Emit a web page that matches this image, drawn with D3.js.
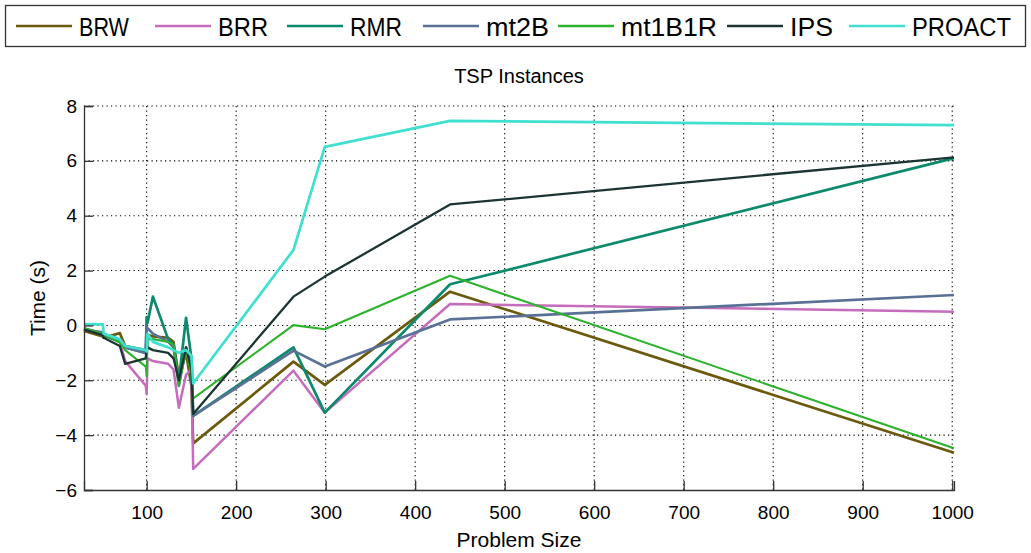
<!DOCTYPE html>
<html>
<head>
<meta charset="utf-8">
<script src="https://cdn.jsdelivr.net/npm/d3@7"></script>
<style>
  body { margin:0; background:#fff; }
  svg text { font-family: "Liberation Sans", Arial, sans-serif; fill:#000; }
</style>
</head>
<body>
<div id="chart"></div>
<script>
// TSP-Instanzen: Laufzeit je Verfahren über Problemgröße
const sizes  = [30, 51, 52, 70, 76, 99, 100, 101, 107, 124, 130, 136, 144, 150, 152, 264, 299, 439, 1002];

const brw    = [-0.2, -0.4, -0.45, -0.28, -0.75, -0.9, -1.0, -0.35, -0.4, -0.45, -0.6, -1.9, -1.0, -2.2, -4.3, -1.32, -2.17, 1.23, -4.64];
const brr    = [-0.15, -0.3, -0.35, -0.6, -1.3, -2.2, -2.5, -1.2, -1.3, -1.4, -1.6, -3.0, -1.8, -1.6, -5.23, -1.65, -3.18, 0.78, 0.5];
const rmr    = [-0.1, -0.3, -0.35, -0.6, -0.8, -1.0, 0.3, 0.1, 1.05, -0.5, -0.7, -2.0, 0.28, -1.2, -3.3, -0.8, -3.18, 1.5, 6.1];
const mt2b   = [-0.15, -0.25, -0.3, -0.55, -0.8, -1.0, -0.05, -0.1, -0.3, -0.6, -0.8, -2.2, -0.8, -1.5, -3.3, -0.92, -1.5, 0.22, 1.11];
const mt1b1r = [-0.1, -0.3, -0.35, -0.6, -0.9, -1.5, -1.85, -0.5, -0.5, -0.6, -0.7, -2.2, -0.9, -1.8, -2.66, 0.01, -0.14, 1.81, -4.48];
const ips    = [-0.15, -0.35, -0.45, -0.75, -1.4, -1.2, -0.7, -0.8, -0.9, -1.0, -1.2, -2.0, -0.8, -1.6, -3.23, 1.05, 1.78, 4.41, 6.13];
const proact = [0.05, 0.04, -0.3, -0.5, -0.75, -0.9, -0.95, -0.3, -0.6, -0.8, -0.9, -1.0, -0.9, -1.1, -2.11, 2.75, 6.51, 7.46, 7.3];

const names  = ['BRW', 'BRR', 'RMR', 'mt2B', 'mt1B1R', 'IPS', 'PROACT'];
const xTicks = [100, 200, 300, 400, 500, 600, 700, 800, 900, 1000];
const yTicks = [-6, -4, -2, 0, 2, 4, 6, 8];

const series = [brw, brr, rmr, mt2b, mt1b1r, ips, proact];
const colors = ['#6b5a0e', '#c66cbc', '#0b8a6c', '#5a7196', '#2db22d', '#1c3434', '#3fe0d0'];
const widths = [2.7, 2.5, 2.7, 2.7, 2.1, 2.3, 2.7];

const W = 1031, H = 553;
const plot = { left:84, right:954, top:106, bottom:490 };

const svg = d3.select('#chart').append('svg')
  .attr('width', W).attr('height', H);

const x = d3.scaleLinear().domain([30, 1002]).range([plot.left, plot.right]);
const y = d3.scaleLinear().domain([-6, 8]).range([plot.bottom, plot.top]);

// Gitter (gepunktet)
const grid = svg.append('g').attr('stroke', '#000').attr('stroke-width', 1.1)
  .attr('stroke-dasharray', '1.2,3.3');
grid.selectAll('line.gx').data(xTicks).enter().append('line')
  .attr('x1', d => x(d)).attr('x2', d => x(d))
  .attr('y1', plot.top).attr('y2', plot.bottom);
grid.selectAll('line.gy').data(yTicks.filter(v => v > -6)).enter().append('line')
  .attr('x1', plot.left).attr('x2', plot.right)
  .attr('y1', d => y(d)).attr('y2', d => y(d));

// Linien
const line = d3.line().x(d => x(d[0])).y(d => y(d[1]));
svg.append('g').selectAll('path').data(series).enter().append('path')
  .attr('d', s => line(sizes.map((v, i) => [v, s[i]])))
  .attr('fill', 'none')
  .attr('stroke', (s, i) => colors[i])
  .attr('stroke-width', (s, i) => widths[i])
  .attr('stroke-linejoin', 'round');

// Achsen (Ticks nach innen)
const xAxis = svg.append('g').attr('transform', `translate(0,${plot.bottom})`)
  .call(d3.axisBottom(x).tickValues(xTicks).tickSize(-9).tickFormat(d3.format('d')));
const yAxis = svg.append('g').attr('transform', `translate(${plot.left},0)`)
  .call(d3.axisLeft(y).tickValues(yTicks).tickSize(-9).tickFormat(d3.format('d')));
[xAxis, yAxis].forEach(g => {
  g.select('.domain').attr('stroke', '#333').attr('stroke-width', 1.3);
  g.selectAll('.tick line').attr('stroke', '#333').attr('stroke-width', 1.3);
  g.selectAll('text').attr('font-size', 19);
});
yAxis.selectAll('.tick text').attr('x', -7);
xAxis.selectAll('.tick text').attr('y', 16);

// Titel und Achsenbeschriftung
svg.append('text')
  .attr('x', (plot.left + plot.right) / 2).attr('y', 83)
  .attr('text-anchor', 'middle').attr('font-size', 20)
  .text('TSP Instances');
svg.append('text')
  .attr('x', (plot.left + plot.right) / 2).attr('y', 547)
  .attr('text-anchor', 'middle').attr('font-size', 21)
  .text('Problem Size');
svg.append('text')
  .attr('transform', `translate(45,${(plot.top + plot.bottom) / 2}) rotate(-90)`)
  .attr('text-anchor', 'middle').attr('font-size', 21)
  .text('Time (s)');

// Legende (horizontal, oberhalb)
const legend = svg.append('g');
legend.append('rect')
  .attr('x', 5.5).attr('y', 5.5).attr('width', 1020).attr('height', 41)
  .attr('fill', '#fff').attr('stroke', '#333').attr('stroke-width', 1.3);
const legX = [16, 155, 287, 423, 558, 727, 849];
const txtW = [50, 50, 52, 63, 96, 43, 99];
const items = legend.selectAll('g.item').data(names).enter().append('g')
  .attr('transform', (d, i) => `translate(${legX[i]},26)`);
items.append('line')
  .attr('x1', 0).attr('x2', 56).attr('y1', 0).attr('y2', 0)
  .attr('stroke', (d, i) => colors[i]).attr('stroke-width', 2.7);
items.append('text')
  .attr('x', 63).attr('y', 9.5).attr('font-size', 26)
  .attr('textLength', (d, i) => txtW[i]).attr('lengthAdjust', 'spacingAndGlyphs')
  .text(d => d);
</script>
</body>
</html>
